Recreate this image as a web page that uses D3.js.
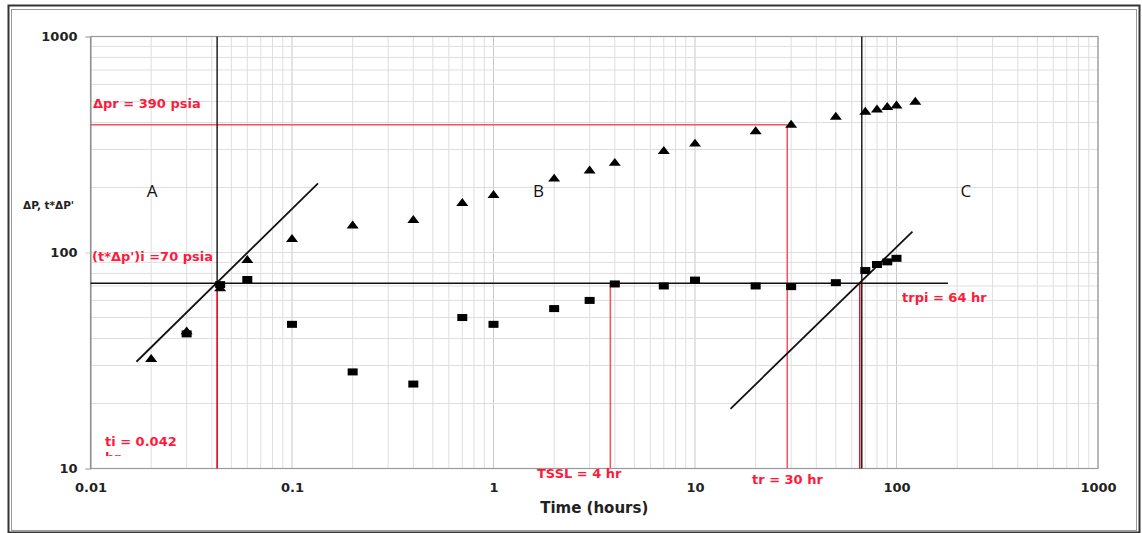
<!DOCTYPE html>
<html>
<head>
<meta charset="utf-8">
<script src="https://cdn.jsdelivr.net/npm/d3@7"></script>
<style>
    html, body { margin: 0; padding: 0; background: #fff; }
    svg { display: block; }
    .tick-lbl { font-family: "DejaVu Sans", sans-serif; font-weight: bold; font-size: 13px; fill: #222; }
    .red-lbl { font-family: "DejaVu Sans", sans-serif; font-weight: bold; font-size: 13px; fill: #ff1a3c; }
</style>
</head>
<body>
<svg id="chart"></svg>
<script>
// =============================================================================
// DATA
// =============================================================================

// time (hours) for each measured point
const times     = [0.02, 0.03, 0.044, 0.06, 0.1, 0.2, 0.4, 0.7, 1, 2, 3, 4, 7, 10, 20, 30, 50, 70, 80, 90, 100, 124];
// ΔP, psi (triangles)
const deltaP    = [32, 43, 68, 92, 115, 133, 141, 169, 184, 219, 239, 259, 294, 318, 363, 389, 424, 447, 458, 470, 478, 497];
// t*ΔP', psi (squares) — no derivative point at the last time
const derivP    = [null, 42, 71, 75, 46.5, 28, 24.6, 50, 46.5, 55, 60, 71.5, 70, 74.5, 70, 69.5, 72.5, 82.5, 88, 90.5, 94, null];

const xTicks = [0.01, 0.1, 1, 10, 100, 1000];
const yTicks = [10, 100, 1000];
const xTickLabels = ['0.01', '0.1', '1', '10', '100', '1000'];
const yTickLabels = ['10', '100', '1000'];

// straight-line fits drawn on the plot
const lineA = [{ t: 0.0169, v: 31.2 }, { t: 0.1346, v: 209 }];
const lineC = [{ t: 15.0, v: 18.9 }, { t: 120, v: 125 }];

// reference values
const ti = 0.0425, tssl = 3.8, tr = 28.7, trpi = 66.5;
const dpr = 390, dpiLevel = 72, hLineEnd = 180;

const regionLabels = [
    { text: 'A', t: 0.0202, v: 180 },
    { text: 'B', t: 1.67, v: 180 },
    { text: 'C', t: 221, v: 180 },
];

// =============================================================================
// CHART
// =============================================================================

const W = 1142, H = 533;
const svg = d3.select('#chart').attr('width', W).attr('height', H);

const x = d3.scaleLog().domain([0.01, 1000]).range([90.5, 1098]);
const y = d3.scaleLog().domain([10, 1000]).range([468.5, 36.5]);

// outer frame (double line)
svg.append('rect')
    .attr('x', 8.5).attr('y', 5.5).attr('width', 1131).attr('height', 527)
    .attr('fill', 'none').attr('stroke', '#333').attr('stroke-width', 2);
svg.append('rect')
    .attr('x', 11.5).attr('y', 9.5).attr('width', 1125).attr('height', 521)
    .attr('fill', 'none').attr('stroke', '#999').attr('stroke-width', 1);

const [x0, x1] = x.range();
const [y0, y1] = y.range();
const isDecade = d => Math.abs(Math.log10(d) - Math.round(Math.log10(d))) < 1e-9;

// Grid lines (log minors, decades a bit darker)
const grid = svg.append('g');
grid.selectAll('.gx')
    .data(x.ticks())
    .enter().append('line')
    .attr('x1', d => x(d)).attr('x2', d => x(d))
    .attr('y1', y1).attr('y2', y0)
    .attr('stroke', d => isDecade(d) ? '#c8c8c8' : '#dedede')
    .attr('stroke-width', 1);
grid.selectAll('.gy')
    .data(y.ticks())
    .enter().append('line')
    .attr('x1', x0).attr('x2', x1)
    .attr('y1', d => y(d)).attr('y2', d => y(d))
    .attr('stroke', '#dedede')
    .attr('stroke-width', 1);

// plot border
svg.append('rect')
    .attr('x', x0).attr('y', y1).attr('width', x1 - x0).attr('height', y0 - y1)
    .attr('fill', 'none').attr('stroke', '#999').attr('stroke-width', 1.2);

// Axes
svg.append('g')
    .attr('transform', `translate(0,${y0})`)
    .call(d3.axisBottom(x).tickValues(xTicks).tickSize(0).tickPadding(14)
        .tickFormat((d, i) => xTickLabels[i]))
    .call(ax => ax.select('.domain').remove())
    .call(ax => ax.selectAll('text').attr('class', 'tick-lbl').attr('font-size', null).attr('font-family', null));

svg.append('g')
    .attr('transform', `translate(${x0},0)`)
    .call(d3.axisLeft(y).tickValues(yTicks).tickSize(5).tickPadding(8)
        .tickFormat((d, i) => yTickLabels[i]))
    .call(ax => ax.select('.domain').attr('stroke', '#888'))
    .call(ax => ax.selectAll('.tick line').attr('stroke', '#ccc'))
    .call(ax => ax.selectAll('text').attr('class', 'tick-lbl').attr('font-size', null).attr('font-family', null));

// axis titles
svg.append('text')
    .attr('x', (x0 + x1) / 2).attr('y', 513)
    .attr('text-anchor', 'middle')
    .attr('font-family', 'DejaVu Sans').attr('font-weight', 'bold')
    .attr('font-size', '15px').attr('fill', '#222')
    .text('Time (hours)');

svg.append('text')
    .attr('x', 23).attr('y', 209)
    .attr('font-family', 'DejaVu Sans').attr('font-weight', 'bold')
    .attr('font-size', '10.5px').attr('fill', '#222')
    .text('ΔP, t*ΔP\'');

// Red reference lines
const red = '#ff4d5e';
const refs = svg.append('g').attr('stroke', red).attr('stroke-width', 1.5);
refs.append('line')
    .attr('x1', x0).attr('x2', x(tr))
    .attr('y1', y(dpr)).attr('y2', y(dpr));
refs.append('line')
    .attr('x1', x(tr)).attr('x2', x(tr))
    .attr('y1', y(dpr)).attr('y2', y0);
refs.append('line')
    .attr('x1', x(tssl)).attr('x2', x(tssl))
    .attr('y1', y(dpiLevel)).attr('y2', y0);

// Black reference lines
const blk = svg.append('g').attr('stroke', '#111').attr('stroke-width', 1.4);
blk.append('line')
    .attr('x1', x0).attr('x2', x(hLineEnd))
    .attr('y1', y(dpiLevel)).attr('y2', y(dpiLevel));
blk.append('line')
    .attr('x1', x(ti)).attr('x2', x(ti))
    .attr('y1', y1).attr('y2', y(dpiLevel));
blk.append('line')
    .attr('x1', x(trpi) + 1).attr('x2', x(trpi) + 1)
    .attr('y1', y1).attr('y2', y0);

// red verticals at ti and trpi (drawn strong)
svg.append('line')
    .attr('x1', x(ti)).attr('x2', x(ti))
    .attr('y1', y(dpiLevel)).attr('y2', y0)
    .attr('stroke', '#e0001a').attr('stroke-width', 1.6);
svg.append('line')
    .attr('x1', x(trpi) - 1).attr('x2', x(trpi) - 1)
    .attr('y1', y(dpiLevel)).attr('y2', y0)
    .attr('stroke', '#e0001a').attr('stroke-width', 1.4);

// Fit lines
const fit = d3.line().x(d => x(d.t)).y(d => y(d.v));
[lineA, lineC].forEach(seg => {
    svg.append('path')
        .datum(seg)
        .attr('fill', 'none')
        .attr('stroke', '#111')
        .attr('stroke-width', 1.8)
        .attr('d', fit);
});

// Squares (t*ΔP')
const pts = times.map((t, i) => ({ t, dp: deltaP[i], dd: derivP[i] }));
svg.selectAll('.sq')
    .data(pts.filter(d => d.dd != null))
    .enter().append('rect')
    .attr('class', 'sq')
    .attr('x', d => x(d.t) - 5)
    .attr('y', d => y(d.dd) - 3.5)
    .attr('width', 10).attr('height', 7)
    .attr('fill', '#000');

// Triangles (ΔP)
const tri = d3.symbol().type(d3.symbolTriangle).size(40);
svg.selectAll('.tri')
    .data(pts)
    .enter().append('path')
    .attr('class', 'tri')
    .attr('transform', d => `translate(${x(d.t)},${y(d.dp)}) scale(1.25,0.95)`)
    .attr('d', tri)
    .attr('fill', '#000');

// Region labels
svg.selectAll('.region')
    .data(regionLabels)
    .enter().append('text')
    .attr('x', d => x(d.t)).attr('y', d => y(d.v))
    .attr('text-anchor', 'middle')
    .attr('font-family', 'Open Sans').attr('font-size', '17px').attr('fill', '#111')
    .text(d => d.text);

// Red annotations
const redLbl = (tx, ty, txt) => svg.append('text')
    .attr('class', 'red-lbl').attr('x', tx).attr('y', ty).text(txt);

redLbl(93, 108, 'Δpr = 390 psia');
redLbl(92, 261, '(t*Δp\')i =70 psia');
redLbl(105, 446, 'ti = 0.042');
redLbl(537, 478, 'TSSL = 4 hr');
redLbl(752, 484, 'tr = 30 hr');
redLbl(902, 302, 'trpi = 64 hr');

// the "hr" under ti is cut off in the original
svg.append('clipPath').attr('id', 'hrclip')
    .append('rect').attr('x', 100).attr('y', 448).attr('width', 40).attr('height', 8);
svg.append('text')
    .attr('class', 'red-lbl')
    .attr('x', 105).attr('y', 462)
    .attr('clip-path', 'url(#hrclip)')
    .text('hr');
</script>
</body>
</html>
